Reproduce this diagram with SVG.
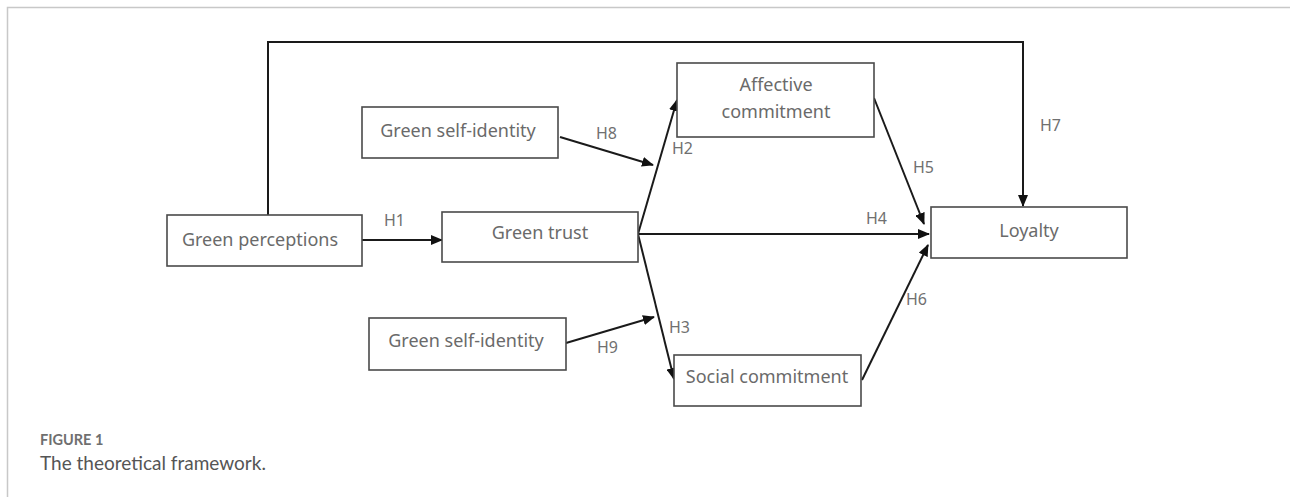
<svg xmlns="http://www.w3.org/2000/svg" width="1290" height="497" viewBox="0 0 1290 497">
<style>
.box{fill:#fff;stroke:#4a4a4a;stroke-width:1.6}
.lbl{font-family:"Noto Sans","Liberation Sans",sans-serif;font-size:18px;fill:#6a6a6a;text-anchor:middle}
.h{font-family:"Noto Sans","Liberation Sans",sans-serif;font-size:16px;fill:#707070}
.c{fill:none;stroke:#1a1a1a;stroke-width:2}
.frame{fill:none;stroke:#c8c8c8;stroke-width:1.5}
</style>
<defs>
<marker id="ar" viewBox="0 0 12 10" refX="11" refY="5" markerWidth="12" markerHeight="10" markerUnits="userSpaceOnUse" orient="auto">
<path d="M0,0 L12,5 L0,10 z" fill="#111"/>
</marker>
</defs>
<rect width="1290" height="497" fill="#fff"/>
<path class="frame" d="M7.5,497 V7.5 H1290"/>
<g id="connectors">
<path class="c" d="M268,215 V42 H1023 V206" marker-end="url(#ar)"/>
<line class="c" x1="362" y1="240" x2="442" y2="240" marker-end="url(#ar)"/>
<line class="c" x1="560" y1="137" x2="653" y2="165" marker-end="url(#ar)"/>
<line class="c" x1="638" y1="234" x2="677" y2="100" marker-end="url(#ar)"/>
<line class="c" x1="638" y1="234" x2="929" y2="234" marker-end="url(#ar)"/>
<line class="c" x1="638" y1="234" x2="674" y2="379" marker-end="url(#ar)"/>
<line class="c" x1="566" y1="343" x2="654" y2="317" marker-end="url(#ar)"/>
<line class="c" x1="874" y1="98" x2="924" y2="224" marker-end="url(#ar)"/>
<line class="c" x1="862" y1="380" x2="928" y2="245" marker-end="url(#ar)"/>
<text class="h" x="384" y="226">H1</text>
<text class="h" x="596" y="139">H8</text>
<text class="h" x="672" y="154">H2</text>
<text class="h" x="866" y="224">H4</text>
<text class="h" x="913" y="173">H5</text>
<text class="h" x="1040" y="131">H7</text>
<text class="h" x="669" y="333">H3</text>
<text class="h" x="597" y="353">H9</text>
<text class="h" x="906" y="305">H6</text>
</g>
<g id="green-perceptions">
<rect class="box" x="167" y="215" width="195" height="51"/>
<text class="lbl" x="260" y="246">Green perceptions</text>
</g>
<g id="green-self-identity-1">
<rect class="box" x="362" y="107" width="196" height="51"/>
<text class="lbl" x="458" y="137">Green self-identity</text>
</g>
<g id="green-trust">
<rect class="box" x="442" y="212" width="196" height="50"/>
<text class="lbl" x="540" y="239">Green trust</text>
</g>
<g id="affective-commitment">
<rect class="box" x="677" y="63" width="197" height="74"/>
<text class="lbl" x="776" y="91">Affective</text>
<text class="lbl" x="776" y="118">commitment</text>
</g>
<g id="green-self-identity-2">
<rect class="box" x="369" y="318" width="197" height="52"/>
<text class="lbl" x="466" y="347">Green self-identity</text>
</g>
<g id="social-commitment">
<rect class="box" x="674" y="355" width="187" height="51"/>
<text class="lbl" x="767" y="383">Social commitment</text>
</g>
<g id="loyalty">
<rect class="box" x="931" y="207" width="196" height="51"/>
<text class="lbl" x="1029" y="237">Loyalty</text>
</g>
<g id="caption">
<text x="40" y="445" font-family="Lato,'Noto Sans',sans-serif" font-size="14.5" font-weight="bold" fill="#6f6f6f">FIGURE 1</text>
<text x="40" y="470" font-family="Lato,'Noto Sans',sans-serif" font-size="19" fill="#555">The theoretical framework.</text>
</g>
</svg>
